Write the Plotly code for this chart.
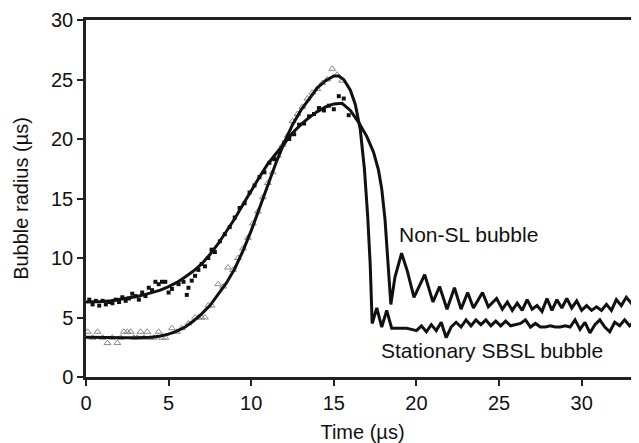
import plotly.graph_objects as go

# ---- Non-SL bubble: fitted/measured curve ----
nonsl_t = [0, 0.5, 1, 1.5, 2, 2.5, 3, 3.5, 4, 4.5, 5, 5.5, 6, 6.5, 7, 7.5, 8, 8.5, 9, 9.5,
           10, 10.5, 11, 11.5, 12, 12.5, 13, 13.5, 14, 14.5, 15, 15.5, 16, 16.5, 17, 17.4,
           17.7, 17.9, 18.1, 18.25, 18.45, 18.7, 19.1, 19.45, 19.85, 20.5, 21.0, 21.4, 21.85,
           22.3, 22.7, 23.1, 23.45, 24.0, 24.35, 24.85, 25.2, 25.5, 25.8, 26.1, 26.4, 26.7,
           27.0, 27.3, 27.6, 27.9, 28.2, 28.5, 28.8, 29.1, 29.4, 29.7, 30.0, 30.3, 30.6, 30.9,
           31.2, 31.5, 31.8, 32.1, 32.4, 32.7, 33.0, 33.3, 33.6]
nonsl_r = [6.3, 6.3, 6.35, 6.4, 6.5, 6.6, 6.75, 6.9, 7.1, 7.3, 7.6, 7.95, 8.4, 8.9, 9.5, 10.3,
           11.2, 12.2, 13.3, 14.5, 15.7, 16.8, 17.9, 18.8, 19.7, 20.5, 21.2, 21.8, 22.3, 22.7,
           22.95, 23.0, 22.4, 21.4, 20.2, 18.9, 17.4, 15.8, 13.2, 10.5, 6.1, 8.4, 10.4, 8.9,
           6.7, 8.6, 6.3, 7.6, 5.7, 7.5, 5.7, 7.1, 5.8, 7.1, 5.9, 6.6, 5.7, 6.3, 5.6, 6.2,
           5.6, 6.5, 5.7, 6.0, 5.5, 6.6, 5.6, 6.5, 5.8, 6.6, 5.8, 6.4, 5.6, 6.0, 5.6, 5.9,
           5.6, 6.1, 5.6, 6.5, 6.0, 6.7, 6.2, 6.6, 6.4]

# ---- Non-SL bubble: measured points (squares) ----
sq_t = [0.2, 0.4, 0.6, 0.8, 1.0, 1.2, 1.4, 1.6, 1.8, 2.0, 2.2, 2.4, 2.6, 2.8, 3.0, 3.2, 3.4,
        3.6, 3.8, 4.0, 4.2, 4.4, 4.6, 4.8, 5.0, 5.2, 5.6, 5.9, 6.1, 6.2, 6.4, 6.6, 6.8, 7.0,
        7.2, 7.4, 7.6, 7.8, 8.1, 8.4, 8.7, 9.0, 9.3, 9.6, 9.9, 10.2, 10.5, 10.8, 11.1, 11.4,
        11.7, 12.0, 12.3, 12.6, 12.9, 13.2, 13.5, 13.8, 14.1, 14.4, 14.7, 15.0, 15.3, 15.6, 15.9]
sq_r = [6.5, 6.1, 6.4, 6.0, 6.4, 6.1, 6.3, 6.2, 6.5, 6.3, 6.7, 6.4, 6.6, 7.0, 6.8, 6.5, 7.1,
        6.8, 7.5, 7.3, 8.0, 7.8, 8.0, 8.0, 7.1, 7.4, 7.8, 8.0, 6.9, 7.5, 8.1, 8.5, 9.0, 9.5,
        9.3, 10.0, 10.7, 10.5, 11.4, 12.0, 12.6, 13.4, 14.2, 14.6, 15.5, 16.1, 16.8, 17.2, 18.0,
        18.3, 18.9, 19.7, 20.0, 20.4, 21.2, 21.3, 21.9, 22.1, 22.6, 22.4, 22.8, 22.5, 23.6, 23.4, 22.0]

# ---- Stationary SBSL bubble: curve ----
sbsl_t = [0, 0.5, 1, 1.5, 2, 2.5, 3, 3.5, 4, 4.5, 5, 5.5, 6, 6.5, 7, 7.5, 8, 8.5, 9, 9.5,
          10, 10.5, 11, 11.5, 12, 12.5, 13, 13.5, 14, 14.5, 15, 15.3, 15.6, 16, 16.3, 16.6,
          16.85, 17.05, 17.2, 17.32, 17.6, 17.9, 18.2, 18.5, 18.8, 19.1, 19.4, 19.7, 20.0,
          20.3, 20.6, 20.9, 21.2, 21.5, 21.8, 22.1, 22.4, 22.7, 23.0, 23.3, 23.6, 23.9, 24.2,
          24.5, 24.8, 25.1, 25.4, 25.7, 26.0, 26.3, 26.6, 26.9, 27.2, 27.5, 27.8, 28.1, 28.4,
          28.7, 29.0, 29.3, 29.6, 29.9, 30.2, 30.5, 30.8, 31.1, 31.4, 31.7, 32.0, 32.3, 32.6,
          32.9, 33.2, 33.5]
sbsl_r = [3.35, 3.33, 3.32, 3.3, 3.3, 3.3, 3.3, 3.32, 3.35, 3.45, 3.6, 3.85, 4.2, 4.7, 5.3,
          6.0, 6.9, 7.9, 9.1, 10.6, 12.3, 14.2, 16.1, 18.0, 19.7, 21.2, 22.4, 23.4, 24.3, 24.9,
          25.3, 25.3, 25.0, 24.1, 22.9, 20.8, 17.5, 13.5, 9.5, 4.5, 5.8, 4.2, 5.6, 4.1, 4.1,
          4.1, 4.1, 4.0, 3.9, 4.3, 3.8, 4.4, 3.9, 4.6, 3.3, 4.2, 4.6, 4.2, 4.8, 4.3, 4.8, 4.4,
          4.8, 4.3, 4.7, 4.3, 4.7, 4.3, 4.4, 4.5, 4.8, 4.2, 4.5, 4.2, 4.2, 4.3, 4.2, 4.2, 4.3,
          4.2, 4.8, 4.0, 4.6, 3.7, 4.4, 4.8, 4.2, 3.8, 4.6, 4.3, 4.8, 4.3, 4.7, 4.3]

# ---- Stationary SBSL bubble: measured points (triangles) ----
tri_t = [0.1, 0.4, 0.7, 1.0, 1.3, 1.6, 1.9, 2.1, 2.3, 2.5, 2.7, 2.9, 3.1, 3.3, 3.5, 3.7, 3.9,
         4.1, 4.4, 4.6, 4.8, 5.2, 5.5, 5.8, 6.2, 6.6, 6.8, 7.0, 7.2, 7.4, 7.6, 8.0, 8.3, 8.6,
         8.9, 9.2, 9.5, 9.8, 10.1, 10.4, 10.7, 11.0, 11.3, 11.6, 11.9, 12.2, 12.5, 12.8, 13.1,
         13.4, 13.7, 14.0, 14.3, 14.6, 14.9, 15.2, 15.5]
tri_r = [3.8, 3.3, 3.8, 3.3, 2.85, 3.3, 2.85, 3.3, 3.8, 3.8, 3.8, 3.3, 3.3, 3.8, 3.3, 3.8, 3.3,
         3.3, 3.8, 3.3, 3.3, 4.1, 3.8, 4.1, 4.5, 5.0, 5.0, 5.0, 5.0, 6.0, 6.0, 7.8, 7.6, 9.2,
         9.0, 10.0, 10.8, 11.7, 12.9, 13.9, 15.1, 16.3, 17.2, 18.6, 19.5, 20.3, 21.5, 22.1, 22.7,
         23.4, 23.9, 24.2, 24.7, 25.0, 25.9, 25.4, 24.9]

x_ticks = [0, 5, 10, 15, 20, 25, 30]
y_ticks = [0, 5, 10, 15, 20, 25, 30]

FONT = "Liberation Sans, Arial, sans-serif"

fig = go.Figure()
fig.add_trace(go.Scatter(x=tri_t, y=tri_r, mode="markers",
                         marker=dict(symbol="triangle-up-open", size=6, color="#8a8a8a",
                                     line=dict(width=1, color="#8a8a8a")),
                         showlegend=False, hoverinfo="skip"))
fig.add_trace(go.Scatter(x=sq_t, y=sq_r, mode="markers",
                         marker=dict(symbol="square", size=4, color="#111111"),
                         showlegend=False, hoverinfo="skip"))
fig.add_trace(go.Scatter(x=nonsl_t, y=nonsl_r, mode="lines",
                         line=dict(color="#111111", width=3),
                         showlegend=False))
fig.add_trace(go.Scatter(x=sbsl_t, y=sbsl_r, mode="lines",
                         line=dict(color="#111111", width=3),
                         showlegend=False))

fig.add_annotation(x=18.85, y=12.0, text="Non-SL bubble", showarrow=False,
                   xanchor="left", yanchor="middle",
                   font=dict(family=FONT, size=21, color="#111111"))
fig.add_annotation(x=17.75, y=2.2, text="Stationary SBSL bubble", showarrow=False,
                   xanchor="left", yanchor="middle",
                   font=dict(family=FONT, size=21, color="#111111"))

# page body adds an 8px margin; size the figure so the plot area lands where the reference has it
fig.update_layout(
    width=631, height=435,
    margin=dict(l=78, r=0, t=12, b=66),
    paper_bgcolor="white", plot_bgcolor="white",
    font=dict(family=FONT, size=20, color="#111111"),
)
fig.update_xaxes(range=[0, 33.47], tickvals=x_ticks, ticks="outside", ticklen=6, tickwidth=2,
                 tickcolor="#222222", showline=True, linecolor="#222222", linewidth=2.5,
                 mirror=True, showgrid=False, zeroline=False, automargin=False,
                 title=dict(text="Time (µs)", standoff=16, font=dict(size=20)))
fig.update_yaxes(range=[0, 30], tickvals=y_ticks, ticks="outside", ticklen=6, tickwidth=2,
                 tickcolor="#222222", showline=True, linecolor="#222222", linewidth=2.5,
                 showgrid=False, zeroline=False, automargin=False,
                 title=dict(text="Bubble radius (µs)", standoff=18, font=dict(size=20)))

fig.write_html("out.html")
